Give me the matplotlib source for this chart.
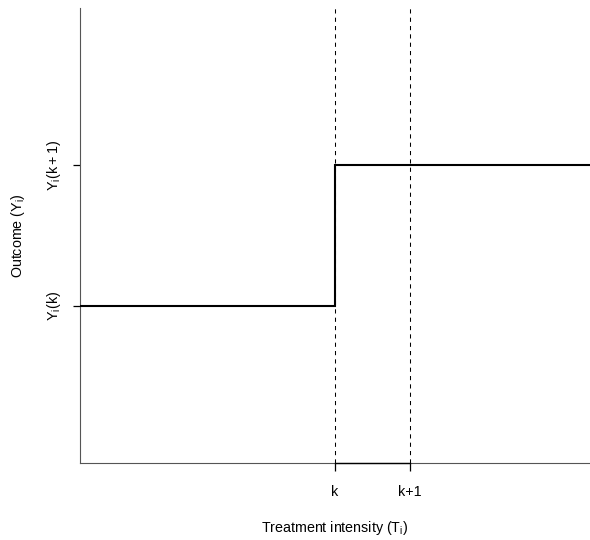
import numpy as np
import matplotlib
matplotlib.use("Agg")
import matplotlib.pyplot as plt

plt.rcParams['font.family'] = ['Liberation Sans', 'DejaVu Sans']
plt.rcParams['mathtext.fontset'] = 'custom'
plt.rcParams['mathtext.rm'] = 'Liberation Sans'
plt.rcParams['mathtext.it'] = 'Liberation Sans'

# treatment levels and potential outcomes
x_lim = [0, 10]
y_lim = [0, 1]
k = 5.0
k1 = 6.47
y_k = 0.345
y_k1 = 0.655
x_ticklabels = ["k", "k+1"]
y_ticklabels = [r"$\mathregular{Y_i(k)}$", r"$\mathregular{Y_i(k+1)}$"]

fs = 10.3

fig = plt.figure(figsize=(5.9, 5.4), dpi=100)
ax = fig.add_axes([80/590, 77/540, 510/590, 455/540])
ax.set_xlim(x_lim)
ax.set_ylim(y_lim)

# step in the outcome at k
ax.plot([x_lim[0], k, k, x_lim[1]], [y_k, y_k, y_k1, y_k1],
        color="black", lw=1.5, solid_joinstyle="miter", zorder=3)
for xv in [k, k1]:
    ax.axvline(xv, color="black", lw=0.75, ls=(0, (4, 4)), zorder=2)

for side in ["top", "right"]:
    ax.spines[side].set_visible(False)
for side in ["left", "bottom"]:
    ax.spines[side].set_linewidth(0.8)
    ax.spines[side].set_color("#555555")

# axis segment between the ticks
ax.plot([k, k1], [0, 0], color="black", lw=1.0, clip_on=False, zorder=4)

ax.set_xticks([k, k1])
ax.set_xticklabels(x_ticklabels, fontsize=fs)
ax.set_yticks([y_k, y_k1])
ax.set_yticklabels(y_ticklabels, fontsize=fs, rotation=90, va="center")
ax.tick_params(axis="x", length=6, width=0.9, pad=10)
ax.tick_params(axis="y", length=5, width=0.9, pad=7)

ax.set_xlabel(r"Treatment intensity ($\mathregular{T_i}$)", fontsize=fs, labelpad=14)
ax.set_ylabel(r"Outcome ($\mathregular{Y_i}$)", fontsize=fs, labelpad=13)

fig.savefig("out.png", dpi=100)
